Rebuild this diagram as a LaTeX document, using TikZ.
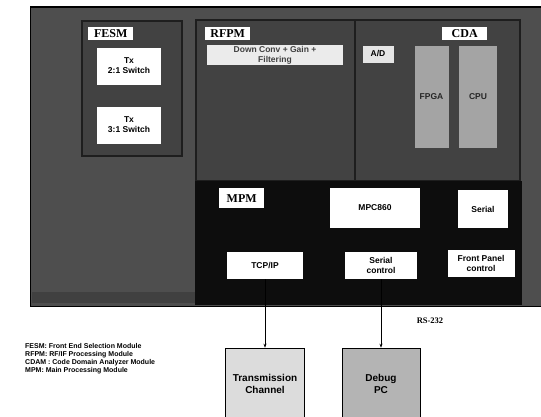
\documentclass[tikz,border=0pt]{standalone}
\usepackage{fontspec}
\setmainfont{Liberation Serif}
\setsansfont{Liberation Sans}
\usetikzlibrary{arrows.meta}
\definecolor{outerg}{HTML}{4E4E4E}
\definecolor{modg}{HTML}{424242}
\definecolor{modb}{HTML}{1E1E1E}
\definecolor{chipg}{HTML}{A4A4A4}
\definecolor{tcg}{HTML}{DCDCDC}
\definecolor{pcg}{HTML}{B4B4B4}
\tikzset{
  module/.style={fill=modg, draw=modb, line width=2.5pt},
  tag/.style={fill=white, draw=none, inner sep=1pt, font=\rmfamily\bfseries\fontsize{12}{13}\selectfont, anchor=north west, minimum height=13pt, minimum width=45pt},
  wbox/.style={fill=white, draw=none, align=center, font=\sffamily\bfseries\fontsize{8.5}{10}\selectfont, inner sep=1pt},
  chip/.style={fill=chipg, draw=none, align=center, font=\sffamily\bfseries\fontsize{8.5}{9}\selectfont, text=black!85},
  ext/.style={draw=black, line width=0.6pt, align=center, font=\sffamily\bfseries\fontsize{10}{12}\selectfont, inner sep=1pt},
  legend/.style={font=\sffamily\bfseries\fontsize{7}{8}\selectfont, align=left, anchor=north west, inner sep=0pt},
  conn/.style={draw=black, line width=0.6pt, -{Stealth[length=4pt,width=3pt]}}
}
\begin{document}
\begin{tikzpicture}[x=1pt,y=-1pt]
\useasboundingbox (0,0) rectangle (541,416);
% outer chassis
\fill[outerg] (30,7) rectangle (541,306);
\draw[black, line width=1.2pt] (30,7) -- (541,7);
\draw[black, line width=1pt] (30,7) -- (30,306) -- (541,306);
% bottom strip
\fill[black!75] (32,292) rectangle (195,303);
% modules
\draw[module] (82,21) rectangle (182,156);
\draw[module] (196,20) rectangle (355,181);
\draw[module] (355,20) rectangle (520,181);
\fill[black!95] (195,181) rectangle (522,305);
% FESM
\node[tag] (fesmtag) at (88,27) {FESM};
\node[wbox, minimum width=64pt, minimum height=37pt] (sw2) at (129,66) {Tx\\2:1 Switch};
\node[wbox, minimum width=64pt, minimum height=37pt] (sw3) at (129,125) {Tx\\3:1 Switch};
% RFPM
\node[tag] (rfpmtag) at (205,27) {RFPM};
\node[wbox, fill=black!8, minimum width=136pt, minimum height=20pt, text=black!75] (dc) at (275,55) {Down Conv + Gain +\\Filtering};
% CDA
\node[tag] (cdatag) at (442,27) {CDA};
\node[wbox, fill=black!10, minimum width=31pt, minimum height=17pt] (ad) at (378,54) {A/D};
\node[chip, minimum width=34pt, minimum height=102pt] (fpga) at (431.5,97) {FPGA};
\node[chip, minimum width=38pt, minimum height=102pt] (cpu) at (478,97) {CPU};
% MPM
\node[tag, minimum height=20pt] (mpmtag) at (219,188) {MPM};
\node[wbox, minimum width=90pt, minimum height=40pt] (mpc) at (375,208) {MPC860};
\node[wbox, minimum width=50pt, minimum height=38pt] (ser) at (483,209) {Serial};
\node[wbox, minimum width=76pt, minimum height=27pt] (tcp) at (265,265.5) {TCP/IP};
\node[wbox, minimum width=72pt, minimum height=27pt] (sc) at (381,265.5) {Serial\\control};
\node[wbox, minimum width=67pt, minimum height=27pt] (fp) at (481,263.5) {Front Panel\\control};
% legend
\node[legend] (leg) at (25,343) {FESM: Front End Selection Module\\RFPM: RF/IF Processing Module\\CDAM : Code Domain Analyzer Module\\MPM: Main Processing Module};
\node[font=\rmfamily\bfseries\fontsize{8.5}{9}\selectfont, inner sep=0pt] (rs) at (430,321) {RS-232};
% external boxes
\node[ext, fill=tcg, minimum width=79pt, minimum height=72pt] (tc) at (265,384) {Transmission\\Channel};
\node[ext, fill=pcg, minimum width=78pt, minimum height=72pt] (pc) at (381,384) {Debug\\PC};
% connectors
\draw[conn] (tcp.south) -- (tcp.south |- tc.north);
\draw[conn] (sc.south) -- (sc.south |- pc.north);
\end{tikzpicture}
\end{document}
